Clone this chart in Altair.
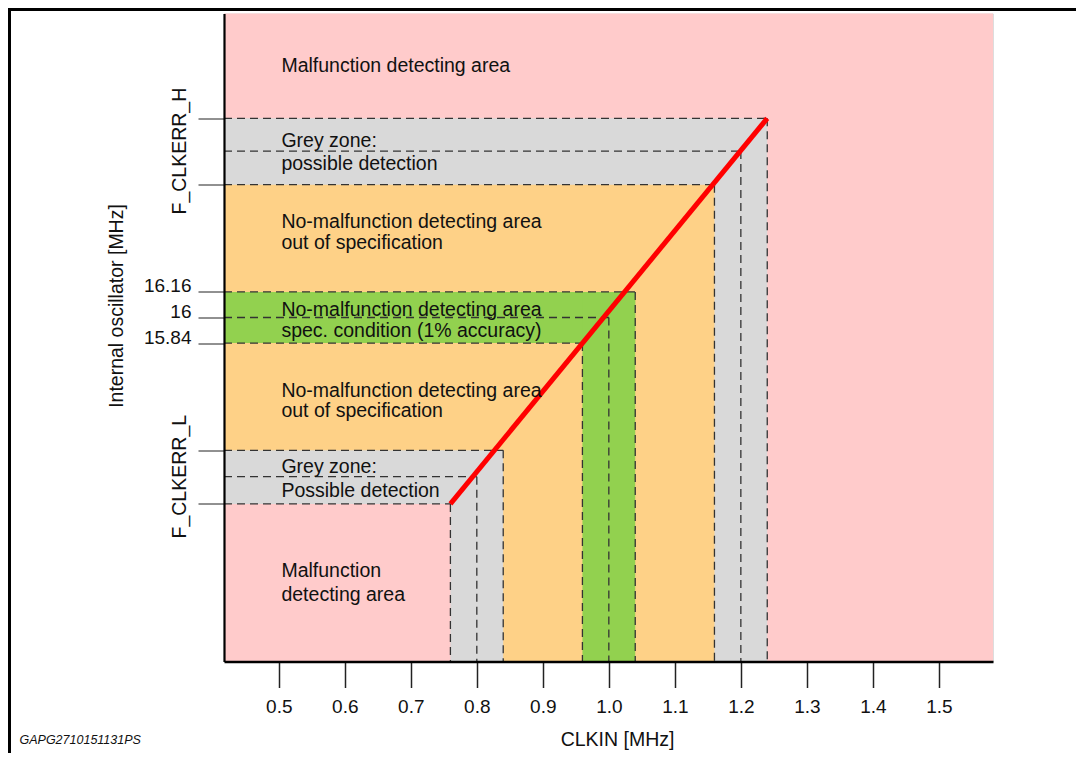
import altair as alt
import pandas as pd

FONT = "Liberation Sans"

# ---------------- data ----------------
# x axis: CLKIN [MHz]
x_domain = [0.417, 1.582]
x_ticks = [0.5, 0.6, 0.7, 0.8, 0.9, 1.0, 1.1, 1.2, 1.3, 1.4, 1.5]
# y axis: internal oscillator [MHz] (diagram scale)
y_domain = [13.85, 17.9]
y_tick_values = [17.245, 16.83, 16.16, 16.0, 15.84, 15.17, 14.835]
y_tick_labels = ["", "", "16.16", "16", "15.84", "", ""]

# boundary corners: each horizontal dashed limit meets its vertical dashed limit
corner_x = [1.24, 1.20, 1.16, 1.04, 1.00, 0.96, 0.84, 0.80, 0.76]
corner_y = [17.245, 17.04, 16.83, 16.16, 16.00, 15.84, 15.17, 15.005, 14.835]

# coloured zones, drawn in this order (later ones on top)
zone_x1 = [0.417, 0.417, 0.417, 0.417, 0.417, 0.417, 0.96]
zone_x2 = [1.582, 1.24, 1.16, 0.84, 0.76, 1.04, 1.04]
zone_y1 = [13.85, 13.85, 13.85, 13.85, 13.85, 15.84, 13.85]
zone_y2 = [17.9, 17.245, 16.83, 15.17, 14.835, 16.16, 16.16]
zone_color = ["#FFCBCB", "#D9D9D9", "#FED187", "#D9D9D9", "#FFCBCB", "#92D14F", "#92D14F"]

# red characteristic line
line_x = [0.76, 1.24]
line_y = [14.835, 17.245]

# zone captions
note_text = [
    "Malfunction detecting area",
    "Grey zone:", "possible detection",
    "No-malfunction detecting area", "out of specification",
    "No-malfunction detecting area", "spec. condition (1% accuracy)",
    "No-malfunction detecting area", "out of specification",
    "Grey zone:", "Possible detection",
    "Malfunction", "detecting area",
]
note_y = [17.532, 17.064, 16.922, 16.561, 16.431, 16.011, 15.881,
          15.505, 15.38, 15.03, 14.878, 14.378, 14.228]
note_x = 0.504

side_labels = ["F_CLKERR_H", "F_CLKERR_L"]
side_label_y = [17.04, 15.005]

# ---------------- tables ----------------
zones = pd.DataFrame({"x1": zone_x1, "x2": zone_x2, "y1": zone_y1,
                      "y2": zone_y2, "color": zone_color})
rows = []
for cx, cy in zip(corner_x, corner_y):
    rows.append({"x": x_domain[0], "x2": cx, "y": cy, "y2": cy})
    rows.append({"x": cx, "x2": cx, "y": cy, "y2": y_domain[0]})
dashes = pd.DataFrame(rows)
red = pd.DataFrame({"x": line_x, "y": line_y})
notes = pd.DataFrame({"x": [note_x] * len(note_text), "y": note_y, "t": note_text})
sides = pd.DataFrame({"y": side_label_y, "t": side_labels})

label_expr = ""
for v, lab in zip(y_tick_values, y_tick_labels):
    if lab:
        label_expr += f"datum.value == {v} ? '{lab}' : "
label_expr += "''"

xs = alt.Scale(domain=x_domain, nice=False, zero=False)
ys = alt.Scale(domain=y_domain, nice=False, zero=False)

x_axis = alt.Axis(values=x_ticks, format=".1f", title="CLKIN [MHz]", grid=False,
                  domainColor="#000", domainWidth=2.5, tickColor="#222",
                  tickWidth=1.5, tickSize=26, labelFont=FONT, labelFontSize=19,
                  labelColor="#111", labelPadding=10, labelOverlap=False,
                  labelFlush=False, titleFont=FONT, titleFontSize=19.5,
                  titleFontWeight="normal", titleColor="#111", titleX=393,
                  titleY=83.5, titleBaseline="alphabetic", titleAlign="center",
                  zindex=1)
y_axis = alt.Axis(values=y_tick_values, labelExpr=label_expr,
                  title="Internal oscillator [MHz]", grid=False,
                  domainColor="#000", domainWidth=2.2, tickColor="#222",
                  tickWidth=1, tickSize=26, labelFont=FONT, labelFontSize=19,
                  labelColor="#111", labelPadding=7, labelBaseline="alphabetic",
                  labelOverlap=False, labelFlush=False, titleFont=FONT,
                  titleFontSize=19.5, titleFontWeight="normal", titleColor="#111",
                  titleX=-101.5, titleY=292, titleAngle=270,
                  titleBaseline="alphabetic", titleAlign="center", zindex=1)


def X(f):
    return alt.X(f, type="quantitative", scale=xs, axis=x_axis)


def Y(f):
    return alt.Y(f, type="quantitative", scale=ys, axis=y_axis)


zone_layer = alt.Chart(zones).mark_rect().encode(
    x=X("x1"), x2="x2", y=Y("y1"), y2="y2",
    color=alt.Color("color:N", scale=None))

dash_layer = alt.Chart(dashes).mark_rule(
    color="#333", strokeWidth=1.3, strokeDash=[8, 5]).encode(
    x=X("x"), x2="x2", y=Y("y"), y2="y2")

red_layer = alt.Chart(red).mark_line(
    color="#FF0000", strokeWidth=5, strokeCap="butt").encode(
    x=X("x"), y=Y("y"))

note_layer = alt.Chart(notes).mark_text(
    align="left", baseline="alphabetic", font=FONT, fontSize=19.5,
    color="#111").encode(x=X("x"), y=Y("y"), text="t:N")

side_layer = alt.Chart(sides).mark_text(
    align="center", baseline="alphabetic", font=FONT, fontSize=19.5,
    color="#111", angle=270).encode(x=alt.value(-38), y=Y("y"), text="t:N")

one = alt.Data(values=[{"k": 1}])
frame_top = alt.Chart(one).mark_rule(color="#000", strokeWidth=3).encode(
    x=alt.value(-216), x2=alt.value(852), y=alt.value(-4))
frame_left = alt.Chart(one).mark_rule(color="#000", strokeWidth=3).encode(
    x=alt.value(-214.5), y=alt.value(-5.5), y2=alt.value(739.5))
code_text = alt.Chart(alt.Data(values=[{"t": "GAPG2710151131PS"}])).mark_text(
    align="left", baseline="alphabetic", font=FONT, fontSize=12.5,
    fontStyle="italic", color="#111").encode(
    x=alt.value(-204.5), y=alt.value(730.8), text="t:N")

chart = alt.layer(
    zone_layer, dash_layer, red_layer, note_layer, side_layer,
    frame_top, frame_left, code_text
).properties(
    width=769, height=648,
    autosize=alt.AutoSizeParams(type="none"),
    padding={"left": 216, "top": 5.5, "right": 83, "bottom": 91.5},
).configure_view(stroke=None).configure(background="white")

chart.save("out.html", embed_options={"renderer": "svg", "actions": False})
